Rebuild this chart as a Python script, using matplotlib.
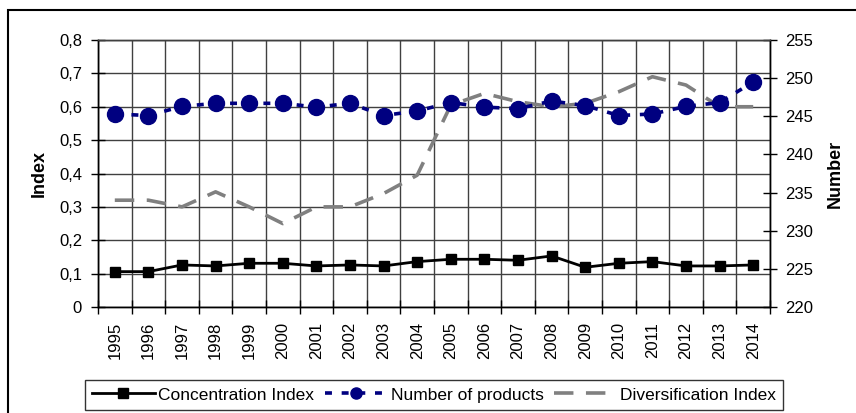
import matplotlib
matplotlib.use('Agg')
import matplotlib.pyplot as plt
from matplotlib.lines import Line2D
from matplotlib.patches import Rectangle
from matplotlib.ticker import FuncFormatter, MultipleLocator, FixedLocator

plt.rcParams['font.family'] = ['Liberation Sans', 'DejaVu Sans']
plt.rcParams['lines.scale_dashes'] = False

years = [str(y) for y in range(1995, 2015)]
concentration = [0.106, 0.106, 0.126, 0.123, 0.131, 0.131, 0.123, 0.126, 0.123, 0.136,
                 0.143, 0.143, 0.140, 0.153, 0.119, 0.131, 0.136, 0.123, 0.123, 0.126]
products = [245.3, 245.1, 246.3, 246.7, 246.7, 246.7, 246.2, 246.7, 245.1, 245.7,
            246.8, 246.2, 246.0, 247.0, 246.4, 245.1, 245.3, 246.3, 246.8, 249.5]
diversification = [0.32, 0.32, 0.30, 0.345, 0.30, 0.25, 0.30, 0.30, 0.34, 0.395,
                   0.605, 0.64, 0.615, 0.60, 0.61, 0.645, 0.69, 0.665, 0.60, 0.60]

W, H = 856, 413
fig = plt.figure(figsize=(W / 100, H / 100), dpi=100)
ax = fig.add_axes([98 / W, 1 - 307 / H, 672 / W, 267 / H])
ax2 = ax.twinx()

x = list(range(len(years)))
grid_c = '#404040'

# series
ax.plot(x, diversification, color='#808080', lw=2.6, dashes=(14, 9), zorder=3)
ax.plot(x, concentration, color='black', lw=2, marker='s', markersize=6.5, zorder=4)
ax2.plot(x, products, color='#000080', lw=2.6, dashes=(5, 7), marker='o',
         markersize=11.5, zorder=4)

# axes limits
ax.set_xlim(-0.5, len(years) - 0.5)
ax.set_ylim(0, 0.8)
ax2.set_ylim(220, 255)

# left axis
ax.yaxis.set_major_locator(MultipleLocator(0.1))
ax.yaxis.set_major_formatter(FuncFormatter(lambda v, p: ('%.1f' % v).replace('.', ',') if v > 0.001 else '0'))
ax.tick_params(axis='y', direction='inout', length=10, width=1, labelsize=12, pad=6.5)
ax.grid(axis='y', which='major', color=grid_c, lw=1)

# x axis
ax.set_xticks(x)
ax.set_xticklabels(years, rotation=90)
ax.tick_params(axis='x', which='major', length=0, labelsize=12, pad=10.8)
ax.xaxis.set_minor_locator(FixedLocator([i - 0.5 for i in range(len(years) + 1)]))
ax.tick_params(axis='x', which='minor', direction='inout', length=10, width=1)
ax.grid(axis='x', which='minor', color=grid_c, lw=1)
ax.set_axisbelow(True)

# right axis
ax2.yaxis.set_major_locator(MultipleLocator(5))
ax2.tick_params(axis='y', direction='inout', length=10, width=1, labelsize=12, pad=5.8)

for a in (ax, ax2):
    a.spines['top'].set_color(grid_c)
    a.spines['left'].set_color('black')
    a.spines['right'].set_color('black')
    a.spines['bottom'].set_color('black')
    for s in a.spines.values():
        s.set_linewidth(1)

ax.set_ylabel('Index', fontsize=13, fontweight='bold')
ax.yaxis.set_label_coords((48 - 98) / 672, 0.5)
ax2.set_ylabel('Number', fontsize=13, fontweight='bold')
ax2.yaxis.set_label_coords((827 - 98) / 672, 0.5)

# legend
handles = [
    Line2D([], [], color='black', lw=2, marker='s', markersize=6.5),
    Line2D([], [], color='#000080', lw=2.6, dashes=(5, 7), marker='o', markersize=8),
    Line2D([], [], color='#808080', lw=2.6, dashes=(14, 9)),
]
labels = ['Concentration Index', 'Number of products', 'Diversification Index']
leg = fig.legend(handles, labels, loc='center', bbox_to_anchor=(434 / W, 1 - 395 / H),
                 ncol=3, fontsize=12.5, frameon=True, fancybox=False, shadow=False,
                 handlelength=3.6, handletextpad=0.2, columnspacing=0.6,
                 borderpad=0.4, borderaxespad=0)
leg.get_frame().set_edgecolor('black')
leg.get_frame().set_linewidth(1)

# outer border
fig.add_artist(Rectangle((8 / W, -0.05), 1.1, 1 - 9.5 / H + 0.05, transform=fig.transFigure,
                         fill=False, edgecolor='black', lw=1.5))

fig.savefig('out.png', dpi=100)
